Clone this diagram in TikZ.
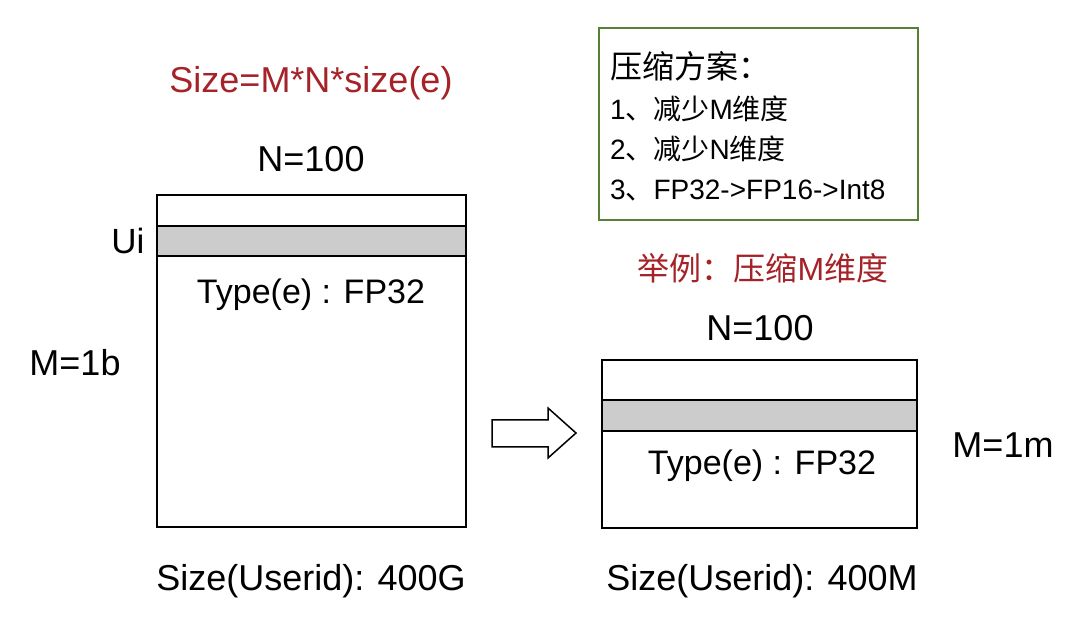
\documentclass[tikz,border=0pt]{standalone}
\usepackage{fontspec}
\setmainfont{Liberation Sans}
\newfontfamily\cjk{Noto Sans CJK SC}
\definecolor{redtxt}{RGB}{165,35,40}
\definecolor{greenbox}{RGB}{85,130,50}
\definecolor{band}{RGB}{204,204,204}
\newcommand\fs[1]{\fontsize{#1}{#1}\selectfont}
\begin{document}
\begin{tikzpicture}[x=1pt,y=-1pt,
  txt/.style={inner sep=0pt,outer sep=0pt,anchor=base},
  box/.style={draw=black,line width=1.6pt},
  bandbox/.style={draw=black,line width=1.6pt,fill=band}]
\useasboundingbox[fill=white] (0,0) rectangle (1080,620);
% left matrix
\draw[box] (157,195) rectangle (466,527);
\draw[bandbox] (157,226) rectangle (466,256);
% right matrix
\draw[box] (602,360) rectangle (917,528);
\draw[bandbox] (602,400) rectangle (917,431);
% block arrow
\draw[line width=1.5pt,fill=white] (492,420) -- (548,420) -- (548,408) -- (576,433) -- (548,458) -- (548,447) -- (492,447) -- cycle;
% green box
\draw[draw=greenbox,line width=1.6pt] (599,28) rectangle (918,220);
% texts
\node[txt,text=redtxt] (formula) at (311,93) {\fs{36}Size=M*N*size(e)};
\node[txt] (nL) at (311,172) {\fs{36}N=100};
\node[txt] (ui) at (128,254) {\fs{35}Ui};
\node[txt] (typeL) at (311,304) {\fs{34}Type(e) : FP32};
\node[txt] (mL) at (75,376) {\fs{36}M=1b};
\node[txt] (sizeL) at (311,590) {\fs{36}Size(Userid): 400G};
\node[txt,anchor=base west] (title) at (610,79) {\fs{32}\cjk 压缩方案：};
\node[txt,anchor=base west] (it1) at (610,120) {\fs{28}1{\cjk 、减少}M{\cjk 维度}};
\node[txt,anchor=base west] (it2) at (610,160) {\fs{28}2{\cjk 、减少}N{\cjk 维度}};
\node[txt,anchor=base west] (it3) at (610,200) {\fs{28}3{\cjk 、}FP32-{\textgreater}FP16-{\textgreater}Int8};
\node[txt,text=redtxt] (example) at (763,281) {\fs{32}{\cjk 举例：压缩}M{\cjk 维度}};
\node[txt] (nR) at (760,341) {\fs{36}N=100};
\node[txt] (typeR) at (762,475) {\fs{34}Type(e) : FP32};
\node[txt] (mR) at (1003,457) {\fs{36}M=1m};
\node[txt] (sizeR) at (762,590) {\fs{36}Size(Userid): 400M};
\end{tikzpicture}
\end{document}
